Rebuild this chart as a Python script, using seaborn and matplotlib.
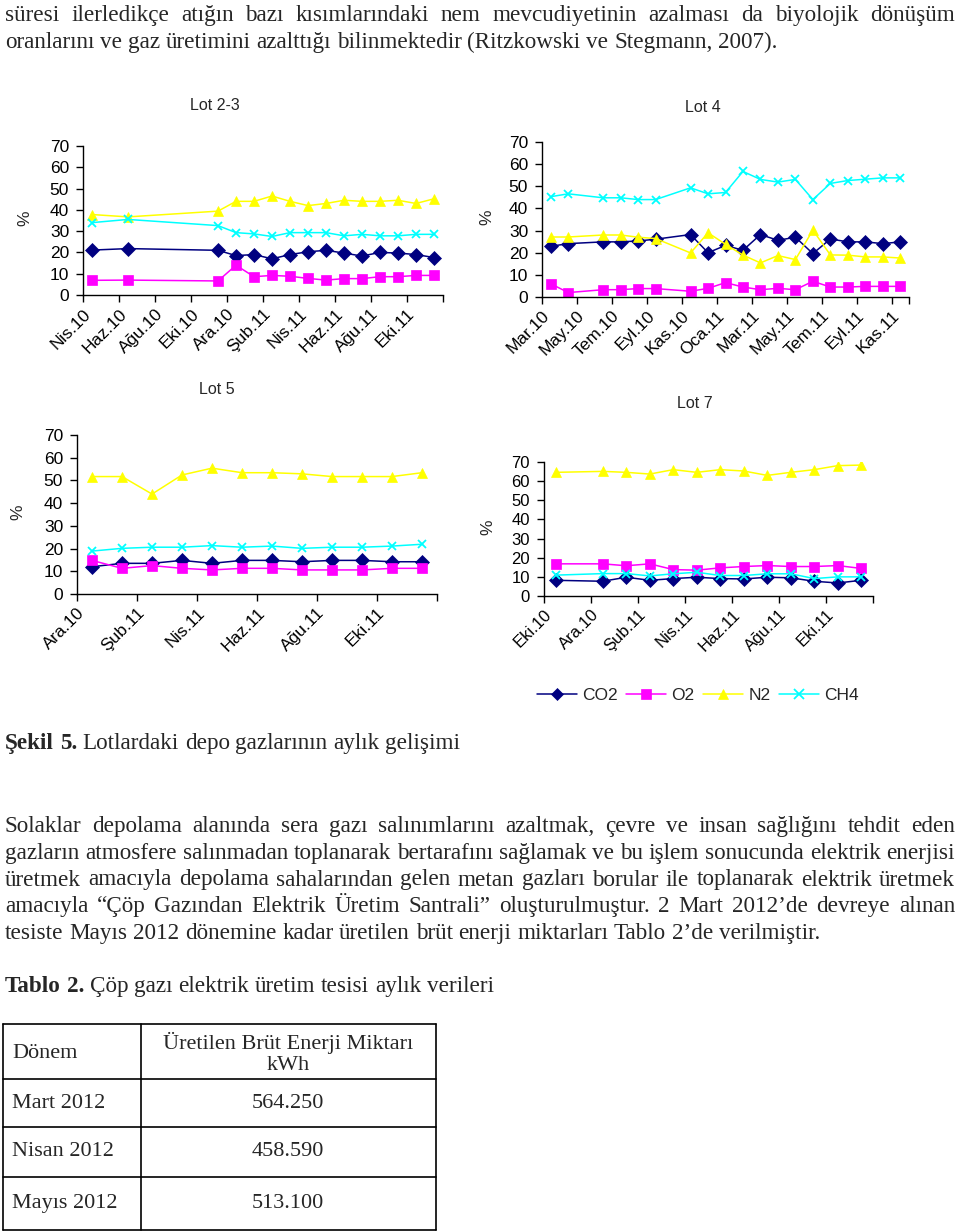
import matplotlib
matplotlib.use("Agg")
import matplotlib.pyplot as plt
import seaborn as sns
from matplotlib.lines import Line2D

sns.set_style("ticks")
plt.rcParams['font.family'] = ['Liberation Sans', 'DejaVu Sans']
SERIF = ['Liberation Serif', 'DejaVu Serif']

W, H = 960, 1231

gases = ["CO2", "O2", "N2", "CH4"]
gas_colors = {"CO2": "#000080", "O2": "#FF00FF", "N2": "#FFFF00", "CH4": "#00FFFF"}
gas_markers = {"CO2": "D", "O2": "s", "N2": "^", "CH4": "x"}

# Lot 2-3, months counted from Nis.10
lot23_months = [0.5, 2.5, 7.5, 8.5, 9.5, 10.5, 11.5, 12.5, 13.5, 14.5, 15.5, 16.5, 17.5, 18.5, 19.5]
lot23_co2 = [21.1, 21.8, 21.0, 18.5, 19.0, 17.0, 19.0, 20.3, 21.0, 19.7, 18.3, 20.0, 19.7, 19.0, 17.6]
lot23_o2 = [6.9, 7.0, 6.6, 14.0, 8.6, 9.2, 8.8, 7.8, 7.0, 7.7, 7.7, 8.6, 8.6, 9.2, 9.2]
lot23_n2 = [37.8, 36.7, 39.4, 44.0, 44.0, 46.5, 44.0, 42.0, 43.0, 44.5, 44.0, 44.0, 44.5, 43.0, 45.2]
lot23_ch4 = [34.0, 35.5, 32.6, 29.3, 28.7, 27.5, 29.3, 29.3, 29.3, 27.8, 28.5, 27.8, 27.8, 28.5, 28.5]
lot23_ticks = ["Nis.10", "Haz.10", "Ağu.10", "Eki.10", "Ara.10", "Şub.11",
               "Nis.11", "Haz.11", "Ağu.11", "Eki.11"]

# Lot 4, months counted from Mar.10
lot4_months = [0.5, 1.5, 3.5, 4.5, 5.5, 6.5, 8.5, 9.5, 10.5, 11.5, 12.5, 13.5,
               14.5, 15.5, 16.5, 17.5, 18.5, 19.5, 20.5]
lot4_co2 = [22.9, 24.1, 24.9, 24.9, 25.3, 26.1, 28.2, 20.0, 23.3, 21.1, 28.2, 25.6,
            27.0, 19.6, 26.2, 24.9, 24.9, 24.1, 24.9]
lot4_o2 = [6.0, 2.0, 3.3, 3.3, 3.8, 3.8, 2.6, 3.9, 6.5, 4.5, 3.3, 3.9,
           3.3, 7.1, 4.5, 4.5, 4.8, 4.8, 4.8]
lot4_n2 = [27.1, 27.1, 28.0, 28.0, 27.0, 26.4, 19.9, 29.0, 23.8, 18.9, 15.4, 18.7,
           16.9, 30.2, 19.0, 18.9, 18.1, 18.1, 17.6]
lot4_ch4 = [45.3, 46.6, 44.8, 44.8, 44.0, 44.0, 49.3, 46.6, 47.2, 56.7, 53.1, 51.9,
            53.1, 44.0, 51.3, 52.6, 53.2, 53.8, 53.8]
lot4_ticks = ["Mar.10", "May.10", "Tem.10", "Eyl.10", "Kas.10", "Oca.11",
              "Mar.11", "May.11", "Tem.11", "Eyl.11", "Kas.11"]

# Lot 5, months counted from Ara.10
lot5_months = [0.5, 1.5, 2.5, 3.5, 4.5, 5.5, 6.5, 7.5, 8.5, 9.5, 10.5, 11.5]
lot5_co2 = [12.0, 13.5, 13.5, 14.8, 13.5, 14.8, 14.8, 14.2, 14.8, 14.8, 14.2, 14.2]
lot5_o2 = [14.8, 11.3, 12.5, 11.3, 10.6, 11.3, 11.3, 10.6, 10.6, 10.6, 11.3, 11.3]
lot5_n2 = [51.7, 51.7, 44.0, 52.4, 55.4, 53.4, 53.4, 52.9, 51.7, 51.7, 51.7, 53.4]
lot5_ch4 = [18.9, 20.1, 20.6, 20.6, 21.3, 20.6, 21.1, 20.1, 20.6, 20.6, 21.1, 21.9]
lot5_ticks = ["Ara.10", "Şub.11", "Nis.11", "Haz.11", "Ağu.11", "Eki.11"]

# Lot 7, months counted from Eki.10
lot7_months = [0.5, 2.5, 3.5, 4.5, 5.5, 6.5, 7.5, 8.5, 9.5, 10.5, 11.5, 12.5, 13.5]
lot7_co2 = [8.2, 7.7, 9.8, 8.2, 9.1, 9.8, 9.1, 8.9, 9.8, 9.5, 7.7, 6.8, 8.2]
lot7_o2 = [16.8, 16.8, 15.8, 16.8, 13.8, 13.5, 14.7, 15.4, 15.9, 15.4, 15.4, 15.9, 14.4]
lot7_n2 = [64.6, 65.1, 64.6, 63.7, 66.0, 64.6, 66.0, 65.3, 63.0, 64.6, 66.0, 68.1, 68.4]
lot7_ch4 = [10.9, 11.7, 11.7, 10.5, 11.6, 12.4, 10.7, 10.7, 11.6, 11.6, 9.1, 10.0, 10.0]
lot7_ticks = ["Eki.10", "Ara.10", "Şub.11", "Nis.11", "Haz.11", "Ağu.11", "Eki.11"]

top_lines = [
    "süresi ilerledikçe atığın bazı kısımlarındaki nem mevcudiyetinin azalması da biyolojik dönüşüm",
    "oranlarını ve gaz üretimini azalttığı bilinmektedir (Ritzkowski ve Stegmann, 2007).",
]
fig_caption = ("Şekil 5.", "Lotlardaki depo gazlarının aylık gelişimi")
para_lines = [
    "Solaklar depolama alanında sera gazı salınımlarını azaltmak, çevre ve insan sağlığını tehdit eden",
    "gazların atmosfere salınmadan toplanarak bertarafını sağlamak ve bu işlem sonucunda elektrik enerjisi",
    "üretmek amacıyla depolama sahalarından gelen metan gazları borular ile toplanarak elektrik üretmek",
    "amacıyla “Çöp Gazından Elektrik Üretim Santrali” oluşturulmuştur. 2 Mart 2012’de devreye alınan",
    "tesiste Mayıs 2012 dönemine kadar üretilen brüt enerji miktarları Tablo 2’de verilmiştir.",
]
table_caption = ("Tablo 2.", "Çöp gazı elektrik üretim tesisi aylık verileri")
table_header = ["Dönem", "Üretilen Brüt Enerji Miktarı", "kWh"]
table_periods = ["Mart 2012", "Nisan 2012", "Mayıs 2012"]
table_energy = ["564.250", "458.590", "513.100"]


fig = plt.figure(figsize=(W / 100, H / 100), dpi=100)
page = fig.add_axes([0, 0, 1, 1])
page.set_xlim(0, W)
page.set_ylim(H, 0)
page.axis("off")
renderer = fig.canvas.get_renderer()


def px_axes(left, top, right, bottom):
    ax = fig.add_axes([left / W, 1 - bottom / H, (right - left) / W, (bottom - top) / H])
    ax.patch.set_visible(False)
    return ax


def draw_lot(ax, months, series, labels, x_end, fs):
    for gas, vals in zip(gases, series):
        c = gas_colors[gas]
        sns.lineplot(x=months, y=vals, ax=ax, color=c, marker=gas_markers[gas],
                     markersize=7.5 if gas != "CH4" else 6, markeredgecolor=c,
                     markeredgewidth=1.3 if gas == "CH4" else 0.5,
                     linewidth=1.1, legend=False)
    ax.set_xlim(0, x_end)
    ax.set_ylim(0, 70)
    ax.set_yticks(range(0, 71, 10))
    ticks = list(range(0, x_end + 1, 2))
    if ticks[-1] != x_end:
        ticks.append(x_end)
    ax.set_xticks(ticks)
    ax.set_xticklabels(labels + [""] * (len(ticks) - len(labels)), rotation=45,
                       ha="right", va="top", rotation_mode="anchor", fontsize=fs)
    ax.set_xlabel("")
    ax.set_ylabel("")
    sns.despine(ax=ax)
    for s in ("left", "bottom"):
        ax.spines[s].set_color("black")
        ax.spines[s].set_linewidth(1.0)
    ax.tick_params(direction="out", length=5, width=1, colors="black", labelsize=fs)
    ax.tick_params(axis="y", pad=5)
    ax.tick_params(axis="x", pad=3)


ax23 = px_axes(83, 146, 443, 295)
draw_lot(ax23, lot23_months, [lot23_co2, lot23_o2, lot23_n2, lot23_ch4], lot23_ticks, 20, 12.5)
ax4 = px_axes(542, 142, 909, 297)
draw_lot(ax4, lot4_months, [lot4_co2, lot4_o2, lot4_n2, lot4_ch4], lot4_ticks, 21, 12.5)
ax5 = px_axes(77, 435, 437, 594)
draw_lot(ax5, lot5_months, [lot5_co2, lot5_o2, lot5_n2, lot5_ch4], lot5_ticks, 12, 12.5)
ax7 = px_axes(544, 462, 873, 596)
draw_lot(ax7, lot7_months, [lot7_co2, lot7_o2, lot7_n2, lot7_ch4], lot7_ticks, 14, 12)

for title, tx, ty in [("Lot 2-3", 215, 105), ("Lot 4", 703, 107), ("Lot 5", 217, 390), ("Lot 7", 695, 404)]:
    page.text(tx, ty, title, fontsize=11.5, ha="center", va="center")
for px, py in [(25, 218), (487, 217), (18, 512), (488, 527)]:
    page.text(px, py, "%", fontsize=12.5, rotation=90, ha="center", va="center")

handles = [Line2D([], [], color=gas_colors[g], marker=gas_markers[g], markersize=6.5,
                  markeredgecolor=gas_colors[g], markeredgewidth=1.3 if g == "CH4" else 0.5,
                  linewidth=1.1) for g in gases]
fig.legend(handles, gases, loc="center", bbox_to_anchor=(698 / W, 1 - 695 / H), ncol=4,
           frameon=False, fontsize=12.5, handlelength=2.3, handletextpad=0.3, columnspacing=0.5)


# ---- page text ----
def put_words(words, y, x0, x1, size, justify, n_bold=0):
    arts = [page.text(0, y, w, fontsize=size, family=SERIF, va="baseline", ha="left",
                      fontweight="bold" if i < n_bold else "normal")
            for i, w in enumerate(words)]
    widths = [a.get_window_extent(renderer).width for a in arts]
    space = size * 100 / 72 * 0.25
    if justify and len(words) > 1:
        space = (x1 - x0 - sum(widths)) / (len(words) - 1)
    x = x0
    for a, w in zip(arts, widths):
        a.set_x(x)
        x += w + space
    return arts


def natural_width(line, size):
    t = page.text(0, 0, line, fontsize=size, family=SERIF)
    w = t.get_window_extent(renderer).width
    t.remove()
    return w


# pick body size so the last paragraph line has its width in the scan
body = 10 * 813 / natural_width(para_lines[-1], 10)

put_words(top_lines[0].split(), 21, 5, 955, body, True)
put_words(top_lines[1].split(), 48, 5, 955, body, False)
put_words(fig_caption[0].split() + fig_caption[1].split(), 749, 5, 955, body, False, n_bold=2)
for i, line in enumerate(para_lines):
    put_words(line.split(), 832 + i * 26.75, 5, 955, body, i < len(para_lines) - 1)
put_words(table_caption[0].split() + table_caption[1].split(), 992, 5, 955, body, False, n_bold=2)

# ---- table ----
tsize = 16
row_lines = [1024, 1079, 1127, 1177, 1230]
for yy in row_lines:
    page.plot([3, 436], [yy, yy], color="black", lw=1.2)
for xx in [3, 141, 436]:
    page.plot([xx, xx], [row_lines[0], row_lines[-1]], color="black", lw=1.2)
page.text(12, 1053, table_header[0], fontsize=tsize, family=SERIF, va="center", ha="left")
page.text(288, 1043, table_header[1], fontsize=tsize, family=SERIF, va="center", ha="center")
page.text(288, 1066, table_header[2], fontsize=tsize, family=SERIF, va="center", ha="center")
for i, (p, e) in enumerate(zip(table_periods, table_energy)):
    yc = (row_lines[i + 1] + row_lines[i + 2]) / 2
    page.text(12, yc, p, fontsize=tsize, family=SERIF, va="center", ha="left")
    page.text(288, yc, e, fontsize=tsize, family=SERIF, va="center", ha="center")

fig.savefig("out.png", dpi=100)
